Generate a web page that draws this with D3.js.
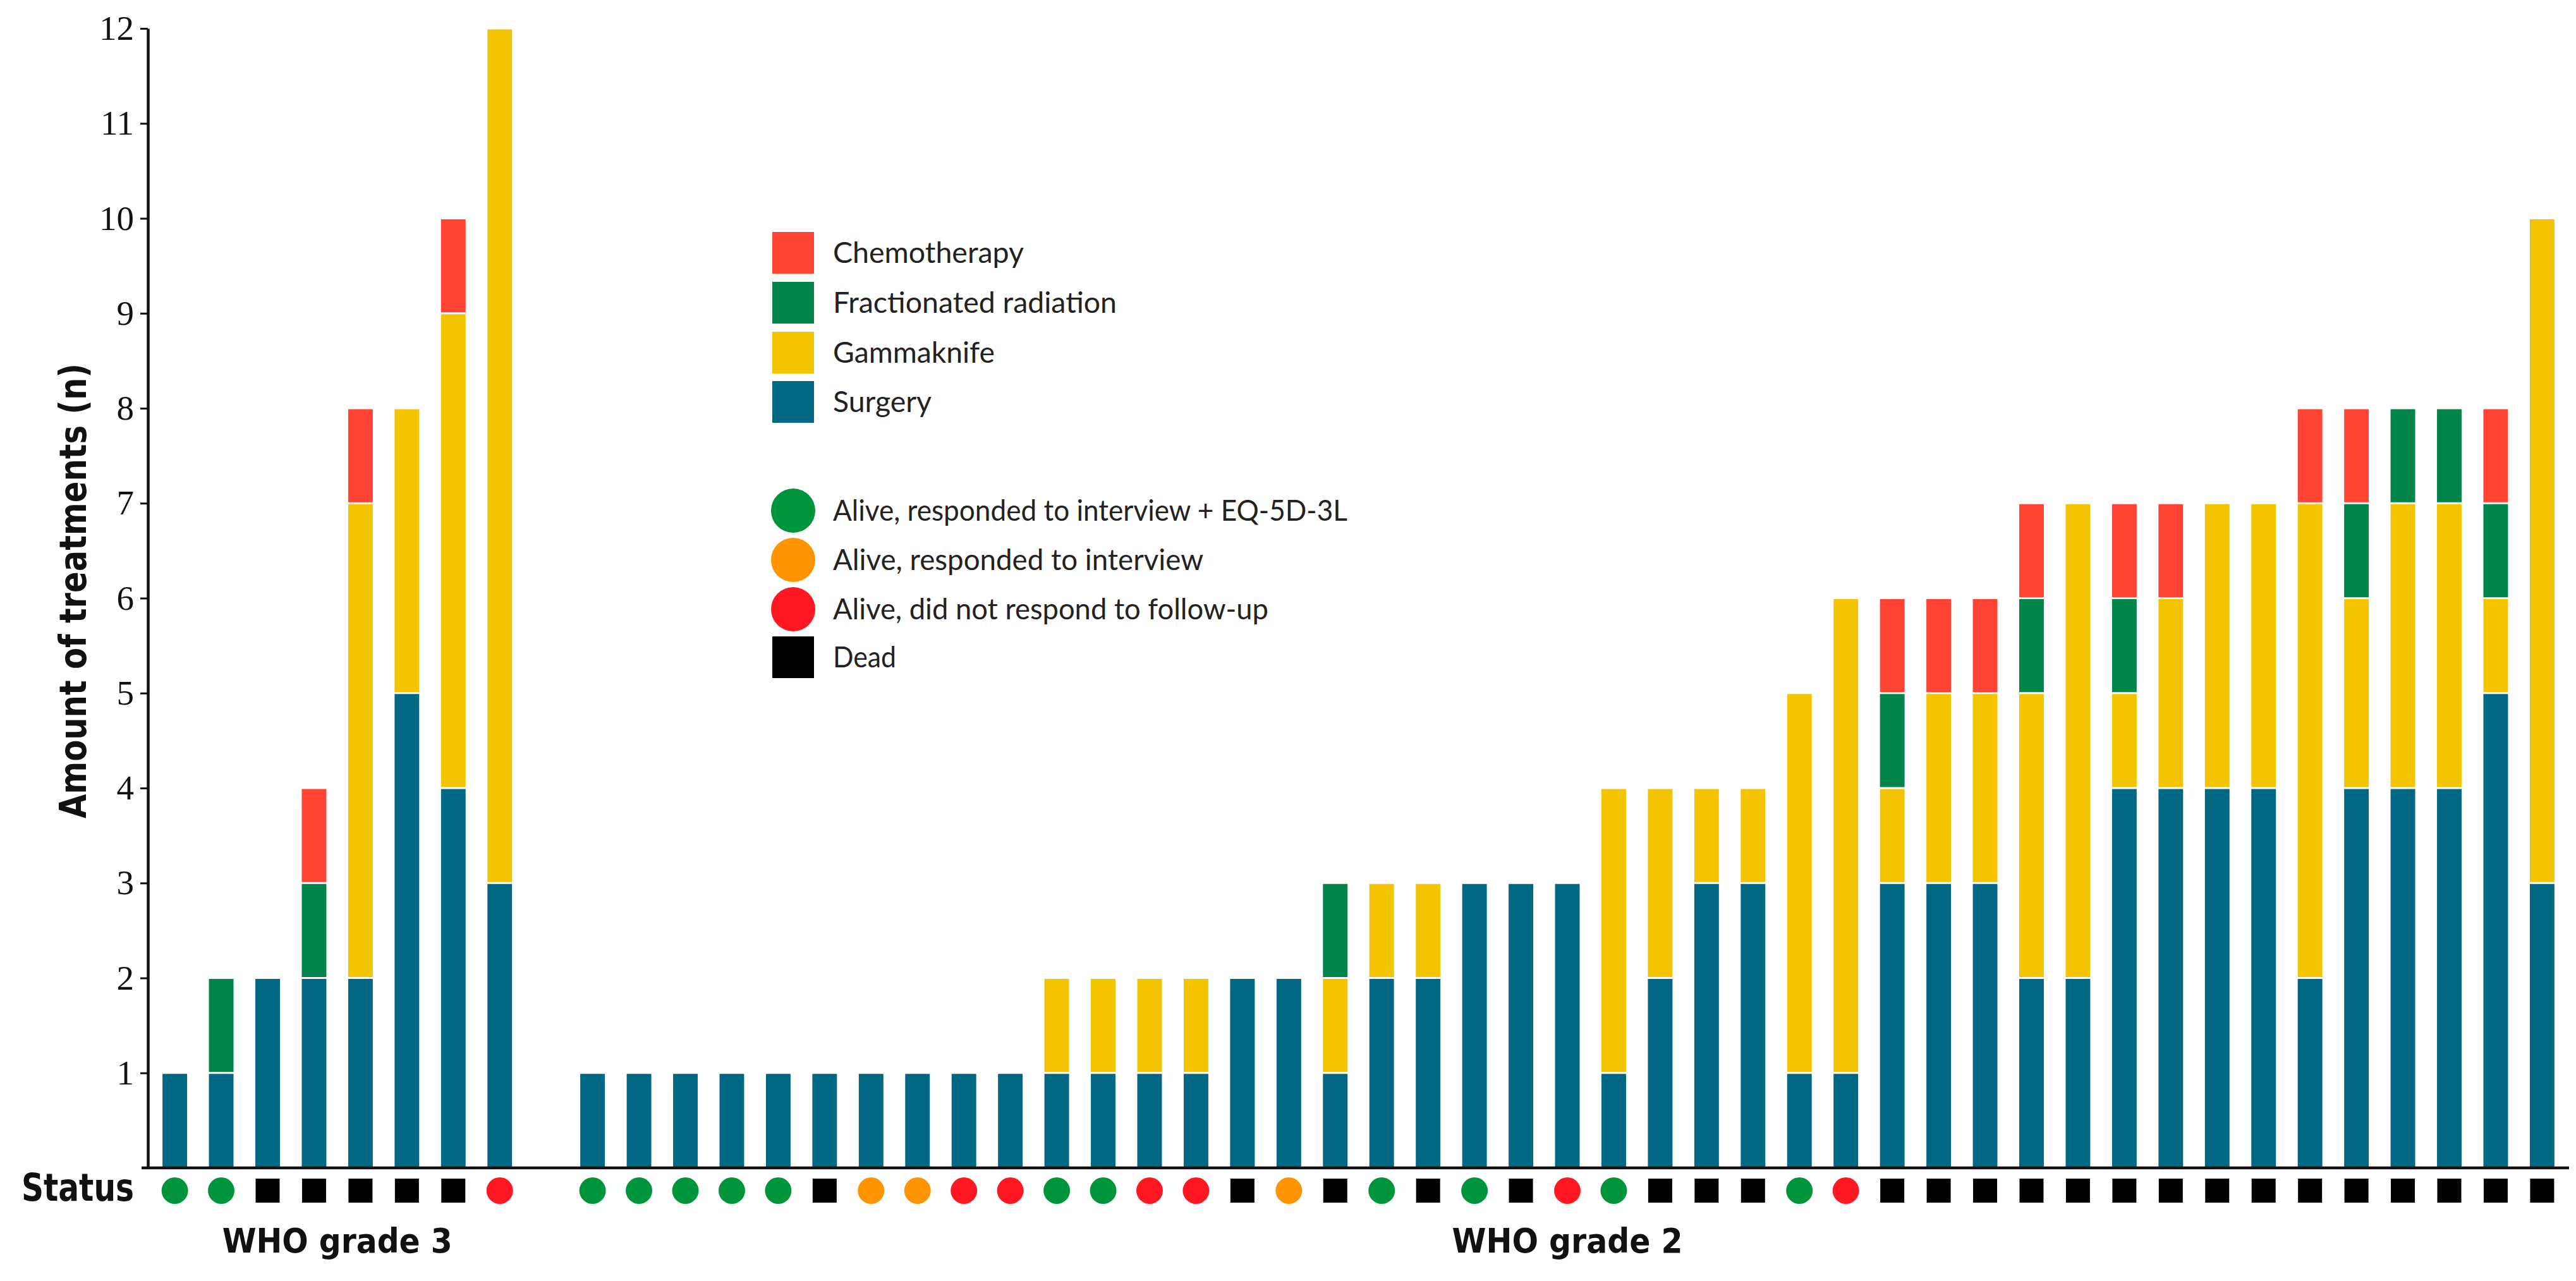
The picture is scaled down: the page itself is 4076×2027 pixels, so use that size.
<!DOCTYPE html>
<html><head><meta charset="utf-8">
<script src="https://cdn.jsdelivr.net/npm/d3@7"></script>
<style>html,body{margin:0;padding:0;background:#fff;} svg{display:block}</style>
</head><body>
<svg id="chart" width="4076" height="2027"></svg>
<script>
// ---------------- DATA ----------------
const treatments = ["Surgery", "Gammaknife", "Fractionated radiation", "Chemotherapy"];
const treatmentColors = ["#006882", "#F4C400", "#00844A", "#FF4433"];

const statusKeys = ["EQ", "INT", "NR", "DEAD"];
const statusLabels = ["Alive, responded to interview + EQ-5D-3L", "Alive, responded to interview", "Alive, did not respond to follow-up", "Dead"];
const statusColors = ["#00953B", "#FF9400", "#FF1721", "#000000"];

const groupLabels = ["WHO grade 3", "WHO grade 2"];
const yTicks = [1, 2, 3, 4, 5, 6, 7, 8, 9, 10, 11, 12];

// WHO grade 3 (8 patients)
const g3Surgery = [1, 1, 2, 2, 2, 5, 4, 3];
const g3Gamma   = [0, 0, 0, 0, 5, 3, 5, 9];
const g3Frac    = [0, 1, 0, 1, 0, 0, 0, 0];
const g3Chemo   = [0, 0, 0, 1, 1, 0, 1, 0];
const g3Status  = ["EQ", "EQ", "DEAD", "DEAD", "DEAD", "DEAD", "DEAD", "NR"];

// WHO grade 2 (43 patients)
const g2Surgery = [1,1,1,1,1,1,1,1,1,1, 1,1,1,1, 2,2, 1, 2,2, 3,3,3, 1, 2, 3,3, 1, 1, 3, 3,3, 2, 2, 4, 4, 4,4, 2, 4, 4,4, 5, 3];
const g2Gamma   = [0,0,0,0,0,0,0,0,0,0, 1,1,1,1, 0,0, 1, 1,1, 0,0,0, 3, 2, 1,1, 4, 5, 1, 2,2, 3, 5, 1, 2, 3,3, 5, 2, 3,3, 1, 7];
const g2Frac    = [0,0,0,0,0,0,0,0,0,0, 0,0,0,0, 0,0, 1, 0,0, 0,0,0, 0, 0, 0,0, 0, 0, 1, 0,0, 1, 0, 1, 0, 0,0, 0, 1, 1,1, 1, 0];
const g2Chemo   = [0,0,0,0,0,0,0,0,0,0, 0,0,0,0, 0,0, 0, 0,0, 0,0,0, 0, 0, 0,0, 0, 0, 1, 1,1, 1, 0, 1, 1, 0,0, 1, 1, 0,0, 1, 0];
const g2Status  = ["EQ","EQ","EQ","EQ","EQ","DEAD","INT","INT","NR","NR","EQ","EQ","NR","NR","DEAD","INT","DEAD","EQ","DEAD","EQ","DEAD","NR","EQ","DEAD","DEAD","DEAD","EQ","NR",
                   "DEAD","DEAD","DEAD","DEAD","DEAD","DEAD","DEAD","DEAD","DEAD","DEAD","DEAD","DEAD","DEAD","DEAD","DEAD"];

// ---------------- LAYOUT ----------------
const L = {
  axisX: 234, yBottom: 1848, yTop: 45, xRight: 4065,
  pointPad: 0.58, barFrac: 0.53, segGap: 3,
  statusY: 1884, statusR: 21, statusSq: 38,
  groupY: 1982,
  legX: 1222, legSq: 66, legTextX: 1318, legR: 35,
  legTreatY: [400, 479, 558, 636], legStatusY: [808, 886, 964, 1040],
  legTreatW: { "Chemotherapy": 302, "Fractionated radiation": 449, "Gammaknife": 256, "Surgery": 156 },
  legStatusW: [814, 586, 689, 100]
};

// ---------------- BUILD ROWS ----------------
const rows = [];
g3Surgery.forEach((v, i) => rows.push({ id: "g3_" + i, group: 0, status: g3Status[i],
  "Surgery": v, "Gammaknife": g3Gamma[i], "Fractionated radiation": g3Frac[i], "Chemotherapy": g3Chemo[i] }));
const spacer = "spacer";
g2Surgery.forEach((v, i) => rows.push({ id: "g2_" + i, group: 1, status: g2Status[i],
  "Surgery": v, "Gammaknife": g2Gamma[i], "Fractionated radiation": g2Frac[i], "Chemotherapy": g2Chemo[i] }));

const domain = rows.filter(r => r.group === 0).map(r => r.id)
  .concat([spacer])
  .concat(rows.filter(r => r.group === 1).map(r => r.id));

const svg = d3.select("#chart");

const x = d3.scalePoint().domain(domain).range([L.axisX, L.xRight]).padding(L.pointPad);
const bw = x.step() * L.barFrac;
const y = d3.scaleLinear().domain([0, 12]).range([L.yBottom, L.yTop]);
const color = d3.scaleOrdinal().domain(treatments).range(treatmentColors);
const sColor = d3.scaleOrdinal().domain(statusKeys).range(statusColors);

// ---------------- BARS ----------------
const stacked = d3.stack().keys(treatments)(rows);
svg.append("g").selectAll("g").data(stacked).join("g")
  .attr("fill", s => color(s.key))
  .selectAll("rect")
  .data(s => s.filter(d => d[1] - d[0] > 0))
  .join("rect")
  .attr("x", d => x(d.data.id) - bw / 2)
  .attr("width", bw)
  .attr("y", d => y(d[1]) + L.segGap / 2)
  .attr("height", d => y(d[0]) - y(d[1]) - L.segGap);

// ---------------- AXES ----------------
const yAxis = svg.append("g")
  .attr("transform", `translate(${L.axisX},0)`)
  .call(d3.axisLeft(y).tickValues(yTicks).tickSize(12).tickSizeOuter(0).tickPadding(10).tickFormat(d3.format("d")));
yAxis.select(".domain").attr("stroke", "#111").attr("stroke-width", 4.5);
yAxis.selectAll(".tick line").attr("stroke", "#111").attr("stroke-width", 3);
yAxis.selectAll(".tick text")
  .attr("fill", "#111")
  .style("font-family", "'Liberation Serif', 'DejaVu Serif', serif")
  .style("font-size", "55px");

svg.append("line")
  .attr("x1", L.axisX - 10).attr("x2", L.xRight)
  .attr("y1", y(0)).attr("y2", y(0))
  .attr("stroke", "#111").attr("stroke-width", 4.5);

const boldFont = "'Liberation Sans Narrow', 'DejaVu Sans Condensed', 'DejaVu Sans', sans-serif";

svg.append("text")
  .attr("transform", `translate(116,935) rotate(-90)`)
  .attr("y", 20)
  .attr("text-anchor", "middle")
  .attr("textLength", 720).attr("lengthAdjust", "spacingAndGlyphs")
  .style("font-family", boldFont).style("font-weight", "bold").style("font-size", "58px")
  .attr("fill", "#111")
  .text("Amount of treatments (n)");

// ---------------- STATUS ROW ----------------
svg.append("text")
  .attr("x", 212).attr("y", 1900)
  .attr("text-anchor", "end")
  .attr("textLength", 178).attr("lengthAdjust", "spacingAndGlyphs")
  .style("font-family", boldFont).style("font-weight", "bold").style("font-size", "60px")
  .attr("fill", "#111")
  .text("Status");

const sg = svg.append("g");
sg.selectAll("circle").data(rows.filter(r => r.status !== "DEAD")).join("circle")
  .attr("cx", d => x(d.id)).attr("cy", L.statusY).attr("r", L.statusR)
  .attr("fill", d => sColor(d.status));
sg.selectAll("rect").data(rows.filter(r => r.status === "DEAD")).join("rect")
  .attr("x", d => x(d.id) - L.statusSq / 2).attr("y", L.statusY - L.statusSq / 2)
  .attr("width", L.statusSq).attr("height", L.statusSq)
  .attr("fill", d => sColor(d.status));

// ---------------- GROUP LABELS ----------------
const groupW = [364, 365];
groupLabels.forEach((g, gi) => {
  const ids = rows.filter(r => r.group === gi).map(r => x(r.id));
  const cx = (d3.min(ids) + d3.max(ids)) / 2;
  svg.append("text")
    .attr("x", cx).attr("y", L.groupY)
    .attr("text-anchor", "middle")
    .attr("textLength", groupW[gi]).attr("lengthAdjust", "spacingAndGlyphs")
    .style("font-family", boldFont).style("font-weight", "bold").style("font-size", "54px")
    .attr("fill", "#111")
    .text(g);
});

// ---------------- LEGEND ----------------
const legFont = "Lato, 'Open Sans', 'DejaVu Sans', sans-serif";
const treatOrder = treatments.slice().reverse();
const lg = svg.append("g");
treatOrder.forEach((t, i) => {
  const cy = L.legTreatY[i];
  lg.append("rect").attr("x", L.legX).attr("y", cy - L.legSq / 2)
    .attr("width", L.legSq).attr("height", L.legSq).attr("fill", color(t));
  lg.append("text").attr("x", L.legTextX).attr("y", cy + 16)
    .attr("textLength", L.legTreatW[t]).attr("lengthAdjust", "spacingAndGlyphs")
    .style("font-family", legFont).style("font-size", "46px").attr("fill", "#222")
    .text(t);
});
statusKeys.forEach((k, i) => {
  const cy = L.legStatusY[i];
  if (k === "DEAD") {
    lg.append("rect").attr("x", L.legX).attr("y", cy - L.legSq / 2)
      .attr("width", L.legSq).attr("height", L.legSq).attr("fill", sColor(k));
  } else {
    lg.append("circle").attr("cx", L.legX + L.legSq / 2).attr("cy", cy).attr("r", L.legR)
      .attr("fill", sColor(k));
  }
  lg.append("text").attr("x", L.legTextX).attr("y", cy + 16)
    .attr("textLength", L.legStatusW[i]).attr("lengthAdjust", "spacingAndGlyphs")
    .style("font-family", legFont).style("font-size", "46px").attr("fill", "#222")
    .text(statusLabels[i]);
});
</script>
</body></html>
